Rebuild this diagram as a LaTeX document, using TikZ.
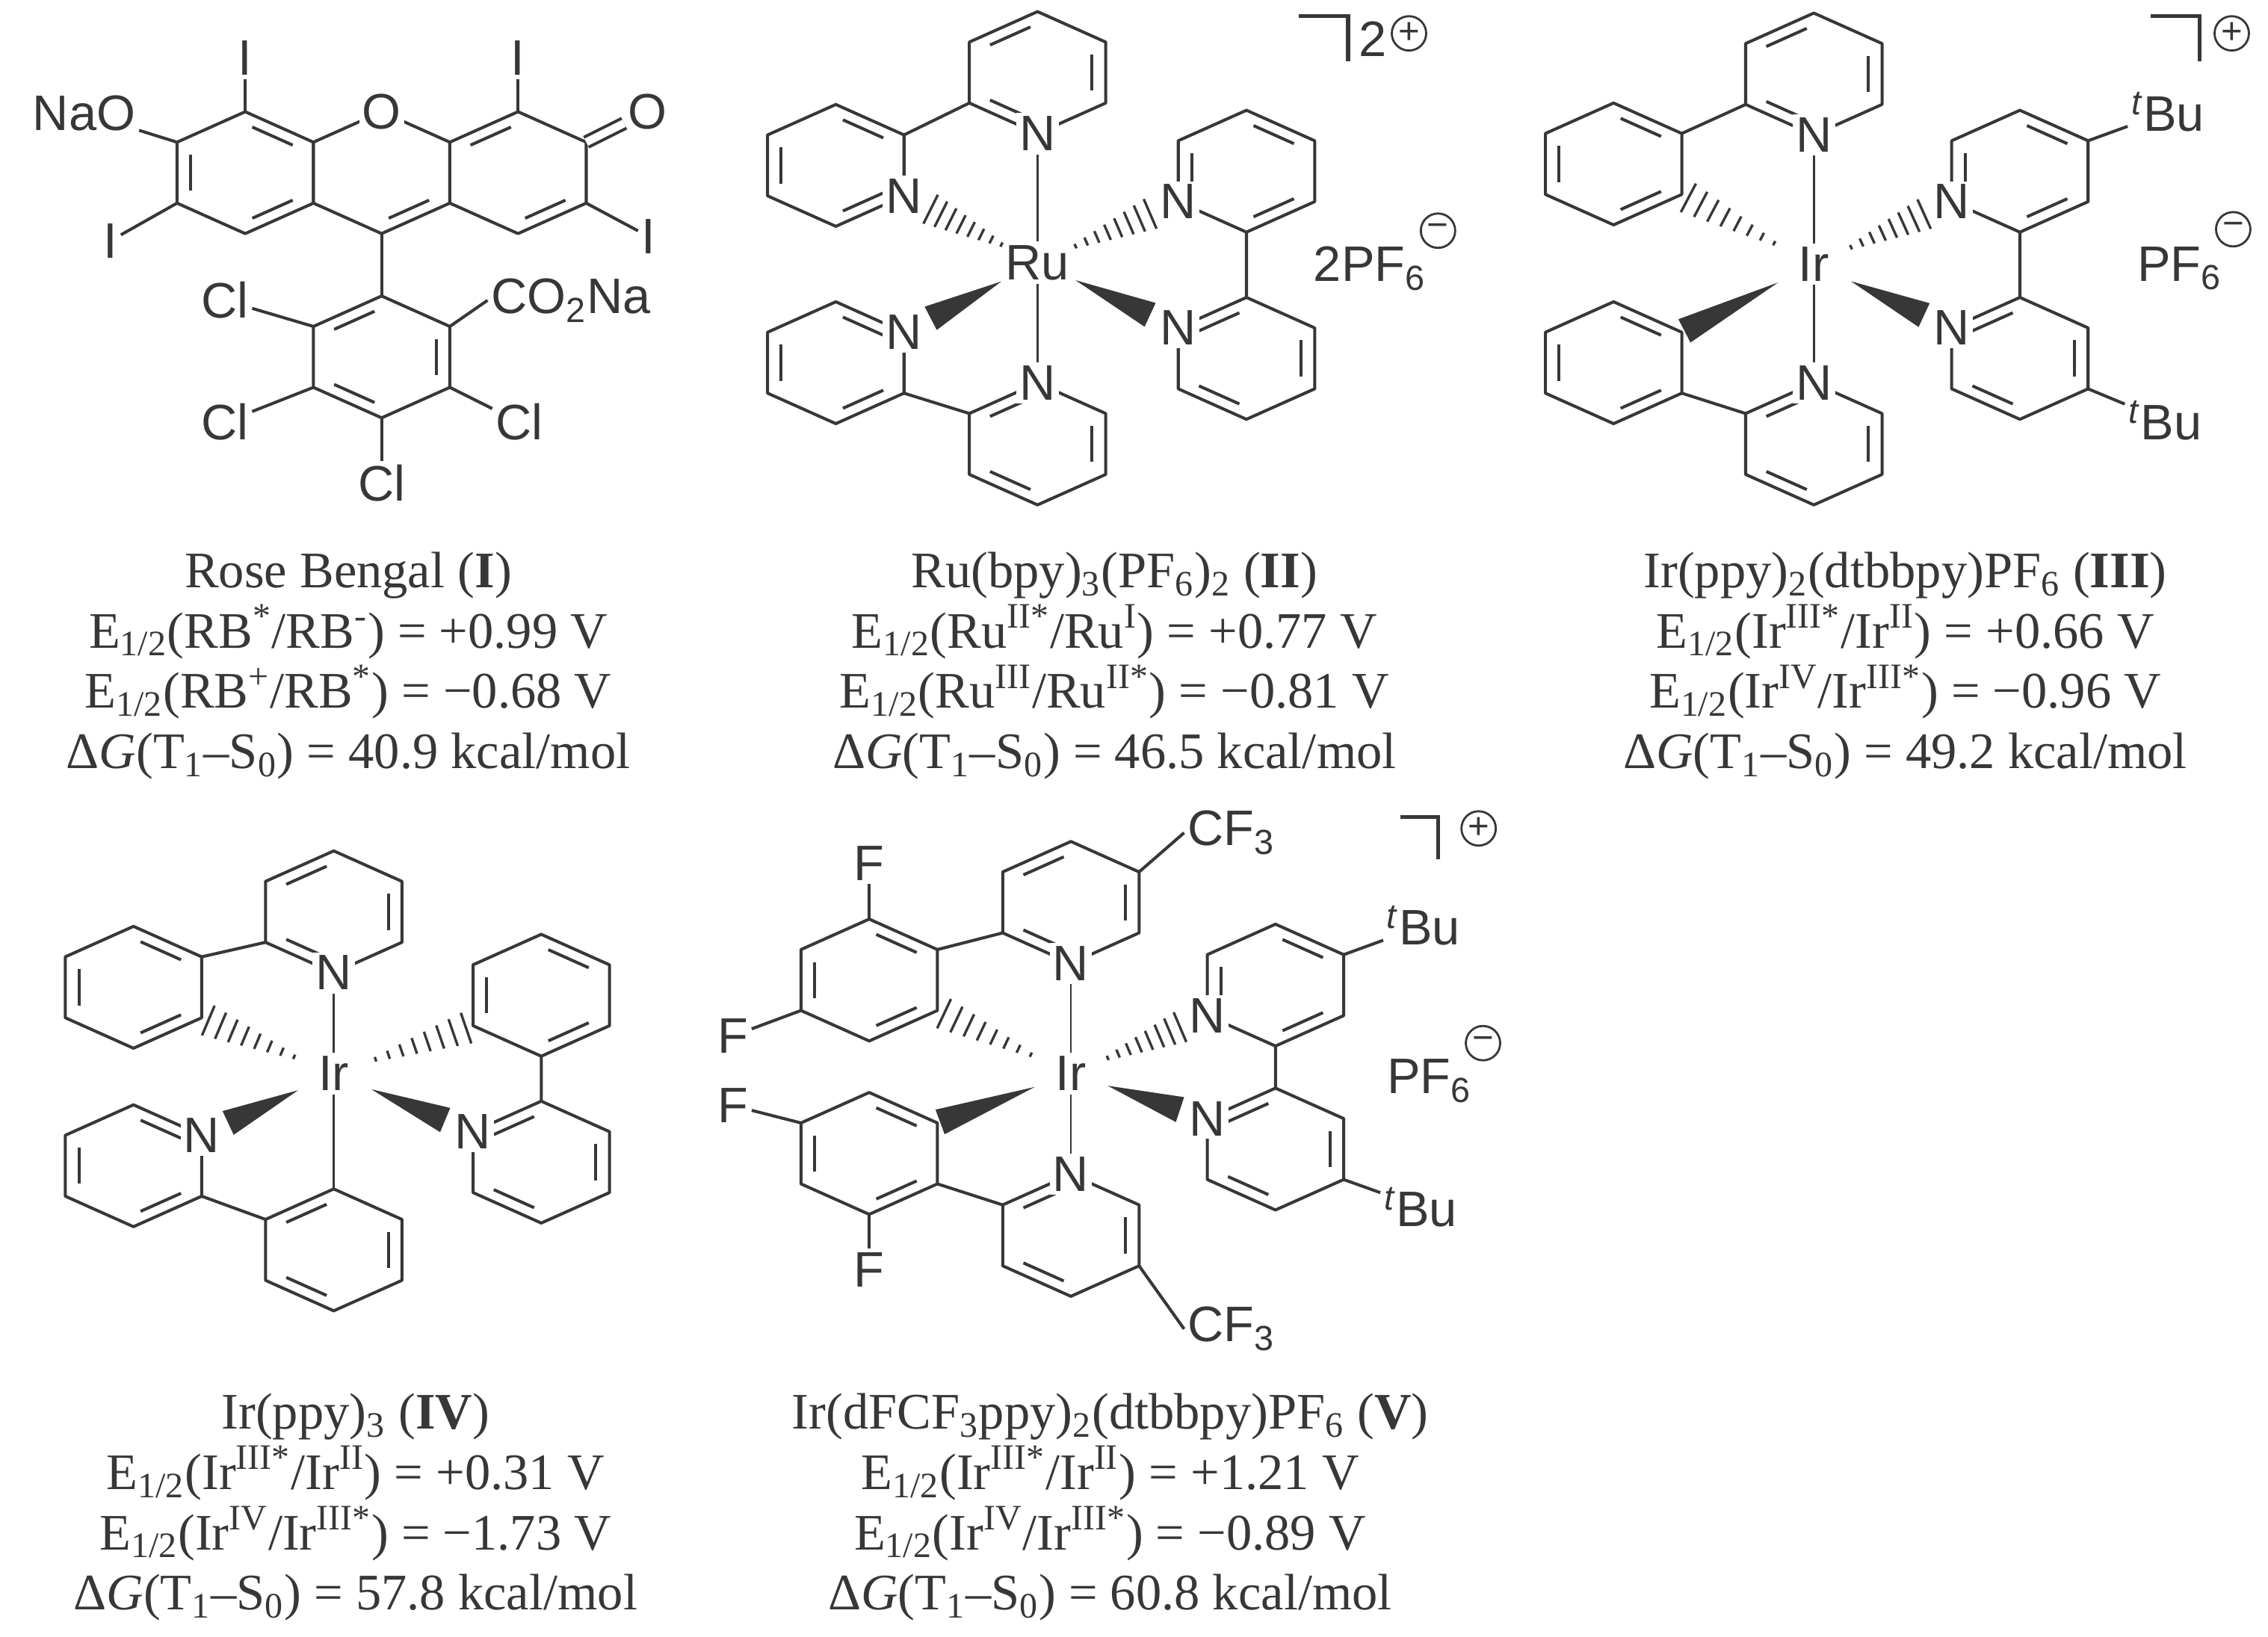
\documentclass[tikz,border=0pt]{standalone}
\usepackage{fontspec}
\setmainfont{Liberation Serif}
\setsansfont{Liberation Sans}
\usetikzlibrary{calc}
\definecolor{bc}{RGB}{55,55,55}
\tikzset{
 bond/.style={line width=1.15pt, draw=bc},
 hashl/.style={line width=0.95pt, draw=bc},
 atom/.style={font=\sffamily\fontsize{19}{19}\selectfont, inner sep=1.2pt, fill=white, text=bc},
 chg/.style={circle, draw=bc, line width=0.8pt, inner sep=0pt, minimum size=0.46cm, text=bc, font=\sffamily\fontsize{14}{14}\selectfont},
 captxt/.style={font=\fontsize{19.5}{23}\selectfont, align=center, anchor=north, text=bc}
}
\newcommand\hexring[3]{%
 \coordinate (#1-c) at (#2,#3);
 \coordinate (#1-1) at (#2,#3-42);
 \coordinate (#1-2) at (#2+47,#3-21);
 \coordinate (#1-3) at (#2+47,#3+21);
 \coordinate (#1-4) at (#2,#3+42);
 \coordinate (#1-5) at (#2-47,#3+21);
 \coordinate (#1-6) at (#2-47,#3-21);
 \draw[bond,line join=round] (#1-1)--(#1-2)--(#1-3)--(#1-4)--(#1-5)--(#1-6)--cycle;}
\newcommand\dbl[3]{\path ($(#1-c)!0.8!(#1-#2)$) coordinate (dA) ($(#1-c)!0.8!(#1-#3)$) coordinate (dB);
 \draw[bond] ($(dA)!0.13!(dB)$) -- ($(dB)!0.13!(dA)$);}
\newcommand\dbls[2]{\foreach \a/\b in {#2}{\dbl{#1}{\a}{\b}}}
\newcommand\hashb[4]{\foreach \i in {0,...,7}{
  \pgfmathsetmacro\hT{#3+(#4-#3)*\i/7}
  \pgfmathsetmacro\hW{0.9+\i*0.75}
  \path ($(#1)!\hT!(#2)$) coordinate (hp);
  \draw[hashl] ($(hp)!\hW pt!90:(#2)$) -- ($(hp)!\hW pt!-90:(#2)$);}}
\newcommand\wedgeb[4]{\path ($(#1)!#3!(#2)$) coordinate (wS) ($(#1)!#4!(#2)$) coordinate (wE);
 \fill[bc] (wS) -- ($(wE)!5pt!90:(wS)$) -- ($(wE)!5pt!-90:(wS)$) -- cycle;}
\newcommand\tbu{\textsuperscript{\textit{t}}Bu}
\begin{document}
\begin{tikzpicture}[x=0.019418cm,y=-0.019418cm]
\useasboundingbox[fill=white] (0,0) rectangle (1563,1128);
% ---------------- Rose Bengal
\hexring{L}{169}{119}\hexring{Mr}{263}{119}\hexring{R}{357}{119}\hexring{P}{263}{246}
\draw[bond] (Mr-4)--(P-1);
\dbls{L}{1/2,5/6,3/4}\dbls{Mr}{3/4}\dbls{R}{6/1,3/4}\dbls{P}{6/1,2/3,4/5}
\node[atom] (O1) at (Mr-1) {O};
\node[atom] (I1) at (169,40) {I}; \draw[bond] (L-1)--(I1);
\node[atom] (NaO) at (58,78) {NaO}; \draw[bond] (L-6)--(NaO);
\node[atom] (I2) at (76,166) {I}; \draw[bond] (L-5)--(I2);
\node[atom] (I3) at (357,40) {I}; \draw[bond] (R-1)--(I3);
\node[atom] (O2) at (446,77) {O}; \draw[bond,double=white,double distance=3pt] (R-2)--(O2);
\node[atom] (I4) at (447,163) {I}; \draw[bond] (R-3)--(I4);
\node[atom] (Cl1) at (155,207) {Cl}; \draw[bond] (P-6)--(Cl1);
\node[atom,anchor=west] (CO) at (336,207) {CO\textsubscript{2}Na}; \draw[bond] (P-2)--(CO.west);
\node[atom] (Cl2) at (155,291) {Cl}; \draw[bond] (P-5)--(Cl2);
\node[atom] (Cl3) at (358,291) {Cl}; \draw[bond] (P-3)--(Cl3);
\node[atom] (Cl4) at (263,333) {Cl}; \draw[bond] (P-4)--(Cl4);
\node[captxt] (capI) at (240,374) {Rose Bengal (\textbf{I})\\
E\textsubscript{1/2}(RB\textsuperscript{*}/RB\textsuperscript{-}) = +0.99 V\\
E\textsubscript{1/2}(RB\textsuperscript{+}/RB\textsuperscript{*}) = −0.68 V\\
Δ\textit{G}(T\textsubscript{1}–S\textsubscript{0}) = 40.9 kcal/mol};
% ---------------- Ru(bpy)3
\begin{scope}[shift={(715,181)}]
\hexring{ruT}{0}{-131}\hexring{ruTL}{-139}{-67}\hexring{ruTR}{144}{-63}
\hexring{ruBR}{144}{66}\hexring{ruBL}{-139}{69}\hexring{ruB}{0}{125}
\draw[bond] (ruT-5)--(ruTL-2) (ruTR-4)--(ruBR-1) (ruBL-3)--(ruB-6);
\dbls{ruT}{6/1,2/3,4/5}\dbls{ruTL}{1/2,5/6,3/4}\dbls{ruTR}{1/2,5/6,3/4}
\dbls{ruBR}{6/1,2/3,4/5}\dbls{ruBL}{1/2,5/6,3/4}\dbls{ruB}{6/1,2/3,4/5}
\node[atom] (ruM) at (0,0) {Ru};
\node[atom] (ruN1) at (ruT-4) {N};
\node[atom] (ruN2) at (ruTL-3) {N};
\node[atom] (ruN3) at (ruTR-5) {N};
\node[atom] (ruN4) at (ruBR-6) {N};
\node[atom] (ruN5) at (ruBL-2) {N};
\node[atom] (ruN6) at (ruB-1) {N};
\draw[bond,line width=0.8pt] (ruM)--(ruN1) (ruM)--(ruN6);
\hashb{ruM}{ruN2}{0.27}{0.8}\hashb{ruM}{ruN3}{0.27}{0.8}
\wedgeb{ruM}{ruN5}{0.27}{0.8}\wedgeb{ruM}{ruN4}{0.27}{0.8}
\end{scope}
\draw[bond,line width=1.5pt] (895,11)--(929,11)--(929,42);
\node[atom,fill=none] (ru2) at (946,27) {2};
\node[chg] (ruplus) at (971,23) {+};
\node[atom,fill=none] (ruPF) at (944,185) {2PF\textsubscript{6}};
\node[chg] (ruminus) at (991,159) {−};
\node[captxt] (capII) at (768,374) {Ru(bpy)\textsubscript{3}(PF\textsubscript{6})\textsubscript{2} (\textbf{II})\\
E\textsubscript{1/2}(Ru\textsuperscript{II*}/Ru\textsuperscript{I}) = +0.77 V\\
E\textsubscript{1/2}(Ru\textsuperscript{III}/Ru\textsuperscript{II*}) = −0.81 V\\
Δ\textit{G}(T\textsubscript{1}–S\textsubscript{0}) = 46.5 kcal/mol};
% ---------------- Ir(ppy)2(dtbbpy) III
\begin{scope}[shift={(1250,182)}]
\hexring{aT}{0}{-131}\hexring{aTL}{-138}{-69}\hexring{aBL}{-138}{68}
\hexring{aB}{0}{124}\hexring{aRU}{142}{-64}\hexring{aRL}{142}{65}
\draw[bond] (aT-5)--(aTL-2) (aBL-3)--(aB-6) (aRU-4)--(aRL-1);
\dbls{aT}{6/1,2/3,4/5}\dbls{aTL}{1/2,5/6,3/4}\dbls{aBL}{1/2,5/6,3/4}
\dbls{aB}{6/1,2/3,4/5}\dbls{aRU}{1/2,5/6,3/4}\dbls{aRL}{6/1,2/3,4/5}
\node[atom] (aM) at (0,0) {Ir};
\node[atom] (aN1) at (aT-4) {N};
\node[atom] (aN2) at (aB-1) {N};
\node[atom] (aN3) at (aRU-5) {N};
\node[atom] (aN4) at (aRL-6) {N};
\node[atom] (atb1) at (244,-105) {\tbu}; \draw[bond] (aRU-2)--(atb1);
\node[atom] (atb2) at (242,108) {\tbu}; \draw[bond] (aRL-3)--(atb2);
\draw[bond,line width=0.8pt] (aM)--(aN1) (aM)--(aN2);
\hashb{aM}{aTL-3}{0.3}{0.95}\hashb{aM}{aN3}{0.27}{0.8}
\wedgeb{aM}{aBL-2}{0.27}{0.98}\wedgeb{aM}{aN4}{0.27}{0.8}
\end{scope}
\draw[bond,line width=1.5pt] (1482,11)--(1516,11)--(1516,42);
\node[chg] (aplus) at (1538,23) {+};
\node[atom,fill=none] (aPF) at (1502,185) {PF\textsubscript{6}};
\node[chg] (aminus) at (1539,158) {−};
\node[captxt] (capIII) at (1313,374) {Ir(ppy)\textsubscript{2}(dtbbpy)PF\textsubscript{6} (\textbf{III})\\
E\textsubscript{1/2}(Ir\textsuperscript{III*}/Ir\textsuperscript{II}) = +0.66 V\\
E\textsubscript{1/2}(Ir\textsuperscript{IV}/Ir\textsuperscript{III*}) = −0.96 V\\
Δ\textit{G}(T\textsubscript{1}–S\textsubscript{0}) = 49.2 kcal/mol};
% ---------------- Ir(ppy)3 IV
\begin{scope}[shift={(230,740)}]
\hexring{bT}{0}{-111.5}\hexring{bTL}{-138}{-59.5}\hexring{bL}{-138}{63.5}
\hexring{bB}{0}{121.5}\hexring{bRp}{143}{-54}\hexring{bRy}{143}{61}
\draw[bond] (bT-5)--(bTL-2) (bL-3)--(bB-6) (bRp-4)--(bRy-1);
\dbls{bT}{6/1,2/3,4/5}\dbls{bTL}{1/2,5/6,3/4}\dbls{bL}{1/2,5/6,3/4}
\dbls{bB}{6/1,2/3,4/5}\dbls{bRp}{1/2,3/4,5/6}\dbls{bRy}{6/1,2/3,4/5}
\node[atom] (bM) at (0,0) {Ir};
\node[atom] (bN1) at (bT-4) {N};
\node[atom] (bN2) at (bL-2) {N};
\node[atom] (bN3) at (bRy-6) {N};
\draw[bond,line width=0.8pt] (bM)--(bN1) (bM)--(bB-1);
\hashb{bM}{bTL-3}{0.3}{0.95}\hashb{bM}{bRp-5}{0.3}{0.95}
\wedgeb{bM}{bN2}{0.27}{0.8}\wedgeb{bM}{bN3}{0.27}{0.8}
\end{scope}
\node[captxt] (capIV) at (245,954) {Ir(ppy)\textsubscript{3} (\textbf{IV})\\
E\textsubscript{1/2}(Ir\textsuperscript{III*}/Ir\textsuperscript{II}) = +0.31 V\\
E\textsubscript{1/2}(Ir\textsuperscript{IV}/Ir\textsuperscript{III*}) = −1.73 V\\
Δ\textit{G}(T\textsubscript{1}–S\textsubscript{0}) = 57.8 kcal/mol};
% ---------------- V
\begin{scope}[shift={(738,740)}]
\hexring{cT}{0}{-118}\hexring{cUP}{-139}{-64.5}\hexring{cLP}{-139}{55}
\hexring{cB}{0}{111.5}\hexring{cRU}{141}{-61}\hexring{cRL}{141}{52}
\draw[bond] (cT-5)--(cUP-2) (cLP-3)--(cB-6) (cRU-4)--(cRL-1);
\dbls{cT}{6/1,2/3,4/5}\dbls{cUP}{1/2,5/6,3/4}\dbls{cLP}{1/2,5/6,3/4}
\dbls{cB}{6/1,2/3,4/5}\dbls{cRU}{1/2,5/6,3/4}\dbls{cRL}{6/1,2/3,4/5}
\node[atom] (cM) at (0,0) {Ir};
\node[atom] (cN1) at (cT-4) {N};
\node[atom] (cN2) at (cB-1) {N};
\node[atom] (cN3) at (cRU-5) {N};
\node[atom] (cN4) at (cRL-6) {N};
\node[atom,anchor=west] (ccf1) at (78,-166) {CF\textsubscript{3}}; \draw[bond] (cT-2)--(ccf1.west);
\node[atom,anchor=west] (ccf2) at (78,176) {CF\textsubscript{3}}; \draw[bond] (cB-3)--(ccf2.west);
\node[atom] (cF1) at (-139,-145) {F}; \draw[bond] (cUP-1)--(cF1);
\node[atom] (cF2) at (-233,-26) {F}; \draw[bond] (cUP-5)--(cF2);
\node[atom] (cF3) at (-233,22) {F}; \draw[bond] (cLP-6)--(cF3);
\node[atom] (cF4) at (-139,135) {F}; \draw[bond] (cLP-4)--(cF4);
\node[atom] (ctb1) at (243,-102) {\tbu}; \draw[bond] (cRU-2)--(ctb1);
\node[atom] (ctb2) at (241,92) {\tbu}; \draw[bond] (cRL-3)--(ctb2);
\draw[bond,line width=0.8pt] (cM)--(cN1) (cM)--(cN2);
\hashb{cM}{cUP-3}{0.3}{0.95}\hashb{cM}{cN3}{0.27}{0.8}
\wedgeb{cM}{cLP-2}{0.27}{0.98}\wedgeb{cM}{cN4}{0.27}{0.8}
\end{scope}
\draw[bond,line width=1.5pt] (965,563)--(991,563)--(991,592);
\node[chg] (cplus) at (1019,571) {+};
\node[atom,fill=none] (cPF) at (985,745) {PF\textsubscript{6}};
\node[chg] (cminus) at (1022,719) {−};
\node[captxt] (capV) at (765,954) {Ir(dFCF\textsubscript{3}ppy)\textsubscript{2}(dtbbpy)PF\textsubscript{6} (\textbf{V})\\
E\textsubscript{1/2}(Ir\textsuperscript{III*}/Ir\textsuperscript{II}) = +1.21 V\\
E\textsubscript{1/2}(Ir\textsuperscript{IV}/Ir\textsuperscript{III*}) = −0.89 V\\
Δ\textit{G}(T\textsubscript{1}–S\textsubscript{0}) = 60.8 kcal/mol};
\end{tikzpicture}
\end{document}
